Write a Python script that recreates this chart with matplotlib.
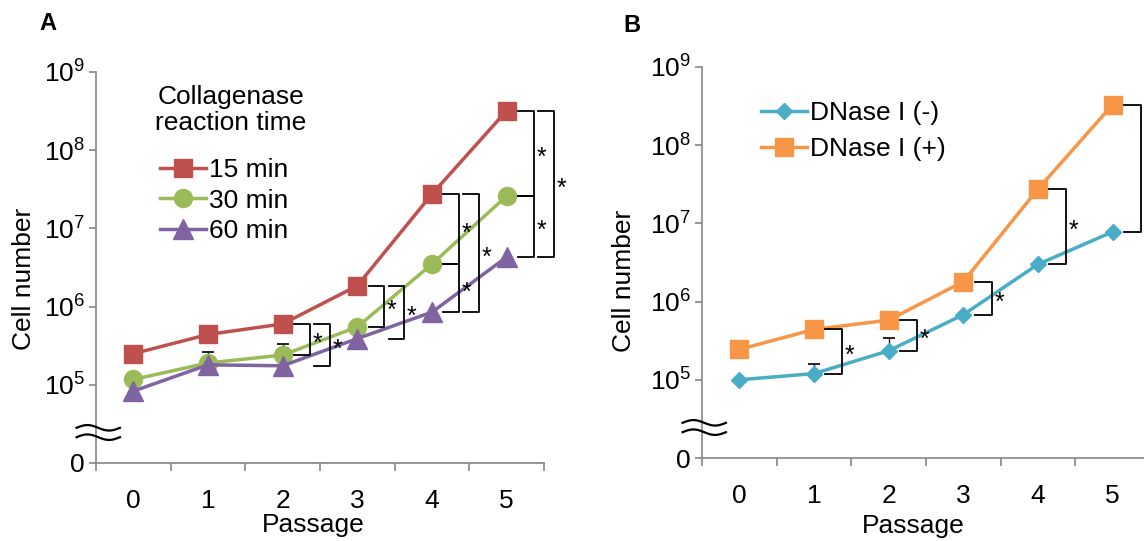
import matplotlib
matplotlib.use('Agg')
import matplotlib.pyplot as plt
import numpy as np

plt.rcParams['font.family'] = ['Liberation Sans', 'DejaVu Sans']
plt.rcParams['mathtext.fontset'] = 'custom'
plt.rcParams['mathtext.rm'] = 'Liberation Sans'

# Data (cell numbers).
passages = [0, 1, 2, 3, 4, 5]
min15 = [2.5e5, 4.4e5, 6.0e5, 1.85e6, 2.75e7, 3.2e8]
min30 = [1.17e5, 1.9e5, 2.4e5, 5.5e5, 3.5e6, 2.6e7]
min60 = [8.3e4, 1.8e5, 1.75e5, 3.9e5, 8.5e5, 4.3e6]
min30_err_top = {1: 2.6e5, 2: 3.3e5}

dnase_minus = [1.0e5, 1.2e5, 2.35e5, 6.8e5, 3.0e6, 7.8e6]
dnase_plus = [2.45e5, 4.4e5, 5.8e5, 1.8e6, 2.75e7, 3.3e8]
minus_err_top = {1: 1.6e5, 2: 3.4e5}

ytick_pos = [4, 5, 6, 7, 8, 9]
ytick_labels = ['0'] + [r'$\mathregular{10^{%d}}$' % k for k in range(5, 10)]

red = '#C0504D'
green = '#9BBB59'
purple = '#8064A2'
teal = '#4BACC6'
orange = '#F79646'
gray = '#868686'
fs = 19

W, H = 1144, 541
fig = plt.figure(figsize=(W / 100, H / 100), dpi=100)


def px_axes(left, top, right, bottom):
    return fig.add_axes([left / W, 1 - bottom / H, (right - left) / W, (bottom - top) / H])


def style_axes(ax):
    ax.set_xlim(-0.5, 5.5)
    ax.set_ylim(4, 9)
    for s in ('top', 'right'):
        ax.spines[s].set_visible(False)
    for s in ('left', 'bottom'):
        ax.spines[s].set_color(gray)
        ax.spines[s].set_linewidth(1.2)
    ax.set_xticks(passages)
    ax.set_xticklabels([str(p) for p in passages], fontsize=fs)
    ax.set_xticks(np.arange(-0.5, 6, 1.0), minor=True)
    ax.tick_params(axis='x', which='major', length=0, pad=19)
    ax.tick_params(axis='x', which='minor', length=6, color=gray, width=1.2, direction='out')
    ax.set_yticks(ytick_pos)
    ax.set_yticklabels(ytick_labels, fontsize=fs)
    ax.tick_params(axis='y', length=5, color=gray, width=1.2, direction='out', pad=3)
    # axis break mark
    t = np.linspace(0, 1, 60)
    xs = -0.5 - 0.26 + 0.58 * t
    for yb in (4.33, 4.45):
        ax.plot(xs, yb + 0.035 * np.sin(2 * np.pi * t), color='k', lw=1.6, clip_on=False, zorder=6)


def bracket(ax, p, y1, y2, x0, x1, star=True):
    ly1, ly2 = np.log10(y1), np.log10(y2)
    ax.plot([p + x0, p + x1, p + x1, p + x0], [ly1, ly1, ly2, ly2], color='k', lw=1.3,
            clip_on=False, zorder=5)
    if star:
        ax.text(p + x1 + 0.1, (ly1 + ly2) / 2 - 0.06, '*', fontsize=18, ha='center', va='center')


# Panel A
axA = px_axes(96, 72, 544, 463)
style_axes(axA)
for yv, c, m, ms, lab in [(min15, red, 's', 13, '15 min'), (min30, green, 'o', 13, '30 min'),
                         (min60, purple, '^', 14, '60 min')]:
    axA.plot(passages, np.log10(yv), color=c, lw=2.5, marker=m, ms=ms, label=lab, zorder=3)
for p, top in min30_err_top.items():
    axA.errorbar([p], [np.log10(min30[p])], yerr=[[0], [np.log10(top) - np.log10(min30[p])]],
                 fmt='none', ecolor='#222222', elinewidth=1.0, capsize=4, capthick=1.4, zorder=2)

for p in (2, 3):
    bracket(axA, p, min15[p], min30[p], 0.15, 0.36)
    bracket(axA, p, min15[p], min60[p], 0.42, 0.63)
for p in (4, 5):
    bracket(axA, p, min15[p], min30[p], 0.15, 0.36)
    bracket(axA, p, min30[p], min60[p], 0.15, 0.36)
    bracket(axA, p, min15[p], min60[p], 0.42, 0.63)

axA.set_ylabel('Cell number', fontsize=fs)
axA.yaxis.set_label_coords(-0.134, 0.47)
fig.text(313 / W, 1 - 525 / H, 'Passage', fontsize=fs, ha='center', va='center')
fig.text(48 / W, 1 - 24 / H, 'A', fontsize=17, fontweight='bold', ha='center', va='center')
fig.text(231 / W, 1 - 110 / H, 'Collagenase\nreaction time', fontsize=fs, ha='center',
         va='center', linespacing=1.1)
axA.legend(loc='upper left', bbox_to_anchor=(160 / W, 1 - 158 / H), bbox_transform=fig.transFigure,
           frameon=False, fontsize=fs, handlelength=1.75, handletextpad=0.1, labelspacing=0.25,
           borderpad=0, borderaxespad=0, numpoints=1)

# Panel B
axB = px_axes(702, 67, 1150, 458)
style_axes(axB)
axB.plot(passages, np.log10(dnase_minus), color=teal, lw=2.5, marker='D', ms=8, label='DNase I (-)', zorder=3)
axB.plot(passages, np.log10(dnase_plus), color=orange, lw=2.5, marker='s', ms=13, label='DNase I (+)', zorder=3)
for p, top in minus_err_top.items():
    axB.errorbar([p], [np.log10(dnase_minus[p])], yerr=[[0], [np.log10(top) - np.log10(dnase_minus[p])]],
                 fmt='none', ecolor='#222222', elinewidth=1.0, capsize=4, capthick=1.4, zorder=2)
for p in (1, 2, 3, 4):
    bracket(axB, p, dnase_plus[p], dnase_minus[p], 0.15, 0.38)
# last bracket runs off the right edge; its star is not visible
bracket(axB, 5, dnase_plus[5], dnase_minus[5], 0.15, 0.38, star=False)

axB.set_ylabel('Cell number', fontsize=fs)
axB.yaxis.set_label_coords(-0.147, 0.453)
fig.text(913 / W, 1 - 526 / H, 'Passage', fontsize=fs, ha='center', va='center')
fig.text(632 / W, 1 - 26 / H, 'B', fontsize=17, fontweight='bold', ha='center', va='center')
axB.legend(loc='upper left', bbox_to_anchor=(761 / W, 1 - 101 / H), bbox_transform=fig.transFigure,
           frameon=False, fontsize=fs, handlelength=1.75, handletextpad=0.1, labelspacing=0.45,
           borderpad=0, borderaxespad=0, numpoints=1)

fig.savefig('out.png', dpi=100)
